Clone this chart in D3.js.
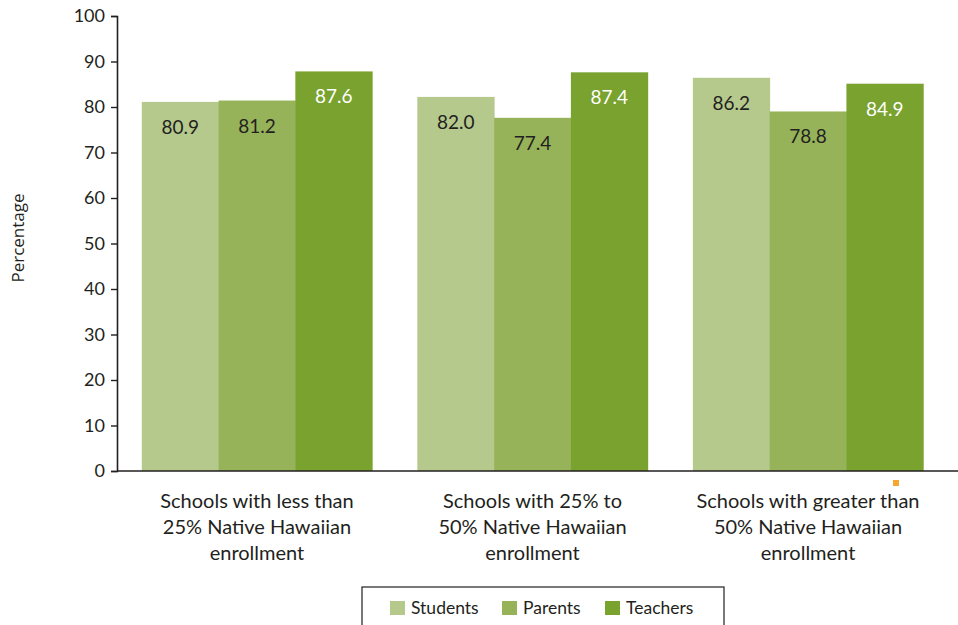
<!DOCTYPE html>
<html>
<head>
<meta charset="utf-8">
<script src="https://cdn.jsdelivr.net/npm/d3@7"></script>
<style>
  html, body { margin: 0; padding: 0; background: #fff; }
  svg { display: block; }
  text { font-family: Lato, "Open Sans", sans-serif; fill: #231f20; }
</style>
</head>
<body>
<svg id="chart" width="958" height="625"></svg>
<script>
const categories = [
  ["Schools with less than", "25% Native Hawaiian", "enrollment"],
  ["Schools with 25% to", "50% Native Hawaiian", "enrollment"],
  ["Schools with greater than", "50% Native Hawaiian", "enrollment"]
];
const seriesNames = ["Students", "Parents", "Teachers"];
const students = [80.9, 82.0, 86.2];
const parents  = [81.2, 77.4, 78.8];
const teachers = [87.6, 87.4, 84.9];
const yTicks = [0, 10, 20, 30, 40, 50, 60, 70, 80, 90, 100];
const colors = ["#b5c98d", "#96b35a", "#79a22e"];
const labelColors = ["#231f20", "#231f20", "#ffffff"];

const seriesValues = [students, parents, teachers];
const svg = d3.select("#chart");

const x0 = d3.scaleBand().domain(d3.range(categories.length))
  .range([117, 948]).paddingInner(0.164).paddingOuter(0.09);
const x1 = d3.scaleBand().domain(d3.range(seriesNames.length))
  .range([0, x0.bandwidth()]).padding(0);
const y = d3.scaleLinear().domain([0, 100]).range([471, 16]);

// bars
const groups = svg.append("g").selectAll("g").data(categories).join("g")
  .attr("transform", (d, i) => `translate(${x0(i)},0)`);
groups.selectAll("rect")
  .data((d, i) => seriesValues.map((s, k) => ({ k, v: s[i] })))
  .join("rect")
  .attr("x", d => x1(d.k))
  .attr("y", d => y(d.v) - 1)
  .attr("width", x1.bandwidth() + 0.5)
  .attr("height", d => y(0) - y(d.v) + 1)
  .attr("fill", d => colors[d.k]);
groups.selectAll("text.val")
  .data((d, i) => seriesValues.map((s, k) => ({ k, v: s[i] })))
  .join("text").attr("class", "val")
  .attr("x", d => x1(d.k) + x1.bandwidth() / 2)
  .attr("y", d => y(d.v) + 31)
  .attr("text-anchor", "middle")
  .style("font-size", "19px")
  .style("fill", d => labelColors[d.k])
  .text(d => d.v.toFixed(1));

// y axis
const yAxis = svg.append("g").attr("transform", "translate(117,0)")
  .call(d3.axisLeft(y).tickValues(yTicks).tickSize(6).tickPadding(6));
yAxis.select(".domain").attr("stroke", "#231f20").attr("stroke-width", 1.6);
yAxis.selectAll(".tick line").attr("stroke", "#231f20").attr("stroke-width", 1.4);
yAxis.selectAll(".tick text").style("font-size", "18px").style("font-family", "Lato, sans-serif").attr("fill", "#231f20");

// x axis line
svg.append("line").attr("x1", 117).attr("x2", 958).attr("y1", y(0)).attr("y2", y(0))
  .attr("stroke", "#231f20").attr("stroke-width", 1.6);

// category labels
svg.append("g").selectAll("text").data(categories).join("text")
  .attr("x", (d, i) => x0(i) + x0.bandwidth() / 2)
  .attr("y", 508)
  .attr("text-anchor", "middle")
  .style("font-size", "20px")
  .selectAll("tspan").data(d => d).join("tspan")
  .attr("x", function () { return d3.select(this.parentNode).attr("x"); })
  .attr("dy", (d, j) => j === 0 ? 0 : 26)
  .text(d => d);

// y axis title
svg.append("text")
  .attr("transform", "translate(24,238) rotate(-90)")
  .attr("text-anchor", "middle")
  .style("font-family", "'Open Sans', sans-serif")
  .style("font-size", "17px")
  .text("Percentage");

// small orange marker
svg.append("rect").attr("x", 893).attr("y", 480).attr("width", 6).attr("height", 6).attr("fill", "#f6a631");

// legend
const lg = svg.append("g");
lg.append("rect").attr("x", 362).attr("y", 587).attr("width", 362).attr("height", 60)
  .attr("fill", "#fff").attr("stroke", "#231f20").attr("stroke-width", 1.2);
const legendX = [390, 502, 605];
seriesNames.forEach((name, k) => {
  lg.append("rect").attr("x", legendX[k]).attr("y", 601).attr("width", 15).attr("height", 14).attr("fill", colors[k]);
  lg.append("text").attr("x", legendX[k] + 21).attr("y", 614).style("font-size", "17.5px").text(name);
});
</script>
</body>
</html>
